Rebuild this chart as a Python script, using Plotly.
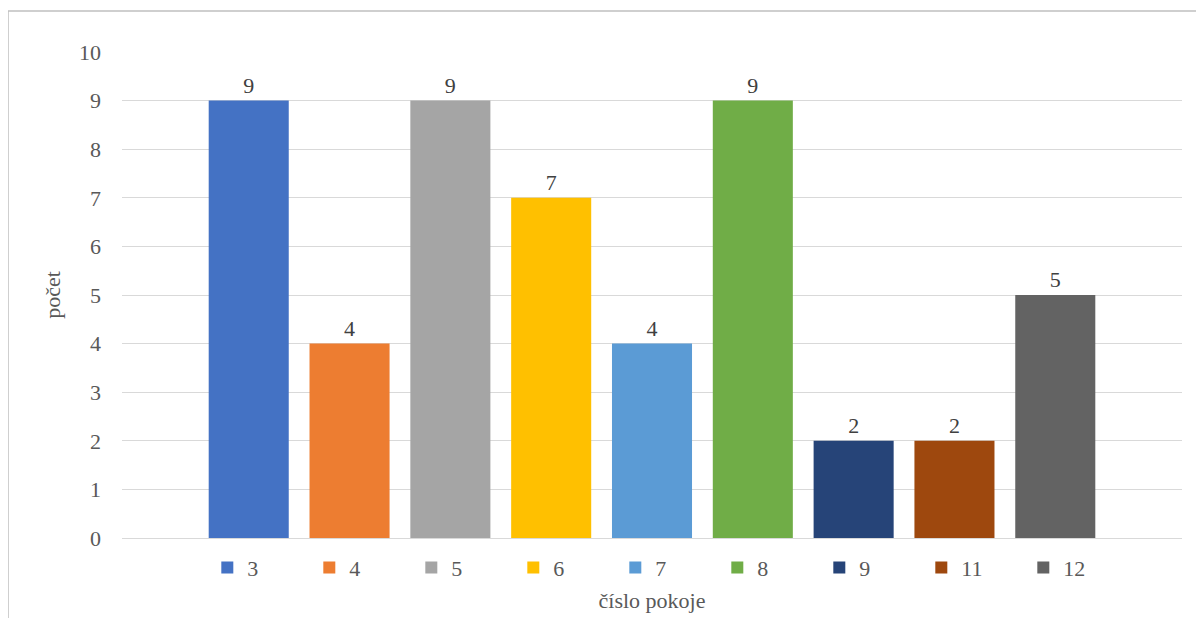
import plotly.graph_objects as go

rooms = ["3", "4", "5", "6", "7", "8", "9", "11", "12"]
counts = [9, 4, 9, 7, 4, 9, 2, 2, 5]
colors = ["#4472C4", "#ED7D31", "#A5A5A5", "#FFC000", "#5B9BD5",
          "#70AD47", "#264478", "#9E480E", "#636363"]
category = [""]

FONT = '"Liberation Serif", "Times New Roman", serif'

# the page body adds an 8px offset; the figure is sized to compensate
W, H = 1196, 610
PL, PT = 114, 44          # plot-area left / top inside the figure
PW, PH = 1060, 486        # plot-area size

fig = go.Figure()
for room, cnt, col in zip(rooms, counts, colors):
    fig.add_trace(go.Bar(
        x=category, y=[cnt], name=room,
        marker=dict(color=col, line=dict(width=0)),
        text=[str(cnt)], textposition="outside",
        textfont=dict(size=22, color="#404040", family=FONT),
        cliponaxis=False,
    ))

fig.update_layout(
    width=W, height=H,
    margin=dict(l=PL, r=W - PL - PW, t=PT, b=H - PT - PH, autoexpand=False),
    paper_bgcolor="white", plot_bgcolor="white",
    barmode="group", bargap=0.144, bargroupgap=0.206,
    font=dict(family=FONT, size=22, color="#595959"),
    showlegend=True,
    legend=dict(orientation="h", x=0.5135, xanchor="center", y=-0.018, yanchor="top",
                entrywidth=57, entrywidthmode="pixels", itemwidth=30,
                font=dict(family=FONT, size=22, color="#595959"), traceorder="normal"),
    xaxis=dict(showticklabels=False, showgrid=False, showline=False, zeroline=False,
               title=dict(text="číslo pokoje", standoff=54,
                          font=dict(family=FONT, size=22, color="#595959"))),
    yaxis=dict(range=[0, 10], dtick=1, showgrid=True, gridcolor="#D9D9D9", gridwidth=1,
               zeroline=True, zerolinecolor="#D9D9D9", zerolinewidth=1,
               showline=False, ticks="", ticklabelstandoff=20,
               tickfont=dict(family=FONT, size=22, color="#595959"),
               title=dict(text="počet", standoff=12,
                          font=dict(family=FONT, size=22, color="#595959"))),
    shapes=[dict(type="rect", xref="paper", yref="paper",
                 x0=(0 - PL) / PW, x1=1.2, y0=-0.3, y1=(PT + PH - 3) / PH,
                 line=dict(color="#C0C0C0", width=1.5), fillcolor="rgba(0,0,0,0)",
                 layer="below")],
)

fig.write_html("out.html")
